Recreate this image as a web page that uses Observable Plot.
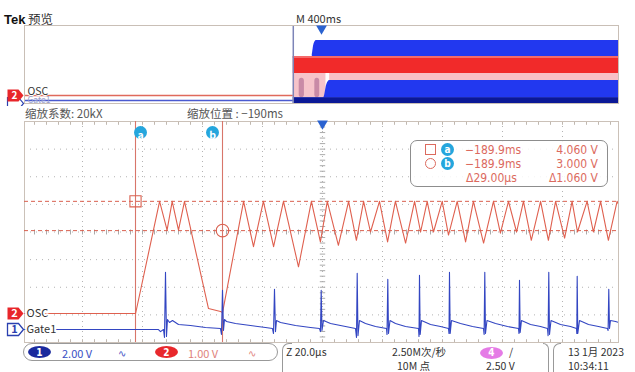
<!DOCTYPE html>
<html><head><meta charset="utf-8">
<script src="https://cdn.jsdelivr.net/npm/d3@7"></script>
<script src="https://cdn.jsdelivr.net/npm/@observablehq/plot@0.6"></script>
<style>
body{margin:0;background:#fff;}
#wrap{position:relative;width:635px;height:372px;overflow:hidden;font-family:"Noto Sans CJK SC","Noto Sans",sans-serif;color:#333;}
.t{position:absolute;white-space:nowrap;line-height:1;transform:translateY(-50%);}
.r{transform:translate(-100%,-50%);}
.n{font-family:"Liberation Sans Narrow","DejaVu Sans Condensed","Liberation Sans",sans-serif;}
.box{position:absolute;box-sizing:border-box;}
</style></head><body><div id="wrap"></div>
<script>
// ---------- data (main view: time in µs, volts) ----------
const redT = [-100, -62.3, -54.3, -51.8, -50.1, -48.0, -46.0, -38.0, -34.0, -33.3, -26.3, -23.0, -19.7, -16.3, -13.0, -8.0, -3.7, -0.7, 1.6, 5.3, 8.7, 11.3, 13.7, 16.0, 19.0, 21.7, 24.3, 27.7, 30.7, 32.7, 34.9, 37.0, 39.9, 42.0, 44.9, 47.7, 50.3, 53.7, 57.0, 59.3, 62.0, 64.7, 67.0, 69.6, 72.7, 75.3, 77.7, 80.7, 83.2, 85.0, 88.2, 90.3, 92.7, 95.3, 98.2, 98.7];
const redV = [0, 0, 4.06, 3.02, 4.06, 3.02, 4.06, 0.18, 0.07, 0.04, 4.06, 2.42, 4.06, 2.42, 4.06, 1.69, 4.06, 2.59, 4.06, 2.47, 4.06, 2.65, 4.06, 2.95, 4.06, 2.59, 4.06, 2.55, 4.06, 2.95, 4.06, 2.95, 4.06, 2.84, 4.06, 2.59, 4.06, 2.55, 4.06, 2.91, 4.06, 2.95, 4.06, 2.65, 4.06, 2.65, 4.06, 2.73, 4.06, 2.95, 4.06, 2.95, 4.06, 2.65, 4.06, 3.95];
const blueT = [-100, -54.67, -54.0, -53.0, -52.67, -52.33, -52.0, -51.67, -51.0, -50.0, -48.0, -44.0, -39.0, -34.0, -33.67, -33.33, -33.0, -32.67, -32.0, -29.0, -24.0, -19.0, -16.67, -16.33, -16.0, -15.67, -15.33, -14.0, -9.0, -4.0, -1.0, -0.67, -0.43, -0.17, 0.33, 2.67, 7.67, 11.0, 11.33, 11.57, 11.83, 12.33, 14.33, 17.67, 21.33, 21.5, 21.77, 22.0, 22.5, 24.33, 27.67, 32.0, 32.17, 32.33, 32.57, 33.0, 36.0, 39.33, 42.0, 42.17, 42.33, 42.57, 43.0, 46.0, 50.0, 53.67, 53.87, 54.1, 54.33, 54.83, 57.67, 61.67, 65.33, 65.5, 65.67, 65.9, 66.33, 69.33, 72.67, 75.0, 75.2, 75.43, 75.67, 76.17, 79.33, 82.67, 84.67, 84.77, 84.9, 85.1, 85.67, 88.67, 92.0, 95.0, 95.2, 95.43, 95.67, 96.0, 97.67, 98.7];
const blueV = [0, 0, -0.15, 0, -0.58, 4.15, -0.51, 0.73, 0.51, 0.65, 0.36, 0.29, 0.15, 0.07, -0.36, 2.84, -0.07, 0.73, 0.58, 0.44, 0.29, 0.15, 0.07, -0.29, 2.91, -0.15, 0.65, 0.51, 0.29, 0.15, 0.07, -0.15, 2.84, -0.07, 0.65, 0.44, 0.22, 0.07, -0.58, 4.07, -0.44, 0.65, 0.44, 0.22, 0.07, -0.36, 3.64, -0.29, 0.65, 0.44, 0.22, 0.07, -0.51, 3.93, -0.36, 0.65, 0.36, 0.22, 0.07, -0.29, 4.15, -0.29, 0.65, 0.44, 0.22, 0.07, -0.36, 4.15, -0.29, 0.65, 0.44, 0.22, 0.07, -0.29, 3.56, -0.22, 0.65, 0.36, 0.22, 0.07, -0.44, 4.15, -0.36, 0.65, 0.36, 0.22, 0.07, -0.29, 3.85, -0.29, 0.65, 0.36, 0.22, 0.07, -0.07, 2.91, 0.07, 0.65, 0.58, 0.51];
const cursorT = [-62.33, -33.33];          // cursor a, b (µs)
const cursorV = [4.06, 3.0];               // cursor a, b (V)
const cursorNames = ["a", "b"];
const readTime = ["−189.9ms", "−189.9ms", "Δ29.00µs"];
const readVolt = ["4.060 V", "3.000 V", "Δ1.060 V"];
const ch1Offset = -0.58, ch1Scale = 0.5;   // Gate1 (2 V/div) drawn on OSC (1 V/div) scale
const chLabels = ["OSC", "Gate1"];

// ---------- preview (time in ms, level in divisions) ----------
const pvZoomPos = -190;
const pvOscLevel = 0.82, pvGateLevel = 0.31;
const pvBlueLowT = [-190, 15, 35, 55, 2000], pvBlueLowY = [0.6, 0.6, 1.9, 2.36, 2.36];
const pvBlueUpT = [-62, -50, -35, 2000], pvBlueUpY = [5.0, 6.1, 6.46, 6.46];
const pvRedT = [-190, 2000], pvRedLo = 3.08, pvRedHi = 4.82;
const pvPinkLeftT = [-190, 30], pvPinkLeftLo = 0.6;
const pvBarT1 = [-150, -45], pvBarT2 = [-115, -12], pvBarTop = 2.6;

// ---------- status texts ----------
const header = {brand: "Tek", mode: "预览", scale: "M 400ms"};
const zoomTexts = ["缩放系数: 20kX", "缩放位置 : −190ms"];
const ch1Text = "2.00 V", ch2Text = "1.00 V";
const horizTexts = ["Z 20.0µs", "2.50M次/秒", "10M 点"];
const trigTexts = ["4", "/", "2.50 V"];
const dateTexts = ["13 1月 2023", "10:34:11"];

const redData = redT.map((t, i) => ({t, v: redV[i]}));
const blueData = blueT.map((t, i) => ({t, v: blueV[i]}));

const wrap = document.getElementById("wrap");
function put(txt, x, y, css, cls) {
  const d = document.createElement("div");
  d.className = "t" + (cls ? " " + cls : "");
  d.textContent = txt;
  d.style.left = x + "px"; d.style.top = y + "px";
  Object.assign(d.style, css || {});
  wrap.appendChild(d); return d;
}
function box(x, y, w, h, css) {
  const d = document.createElement("div");
  d.className = "box";
  Object.assign(d.style, {left: x + "px", top: y + "px", width: w + "px", height: h + "px"}, css || {});
  wrap.appendChild(d); return d;
}

const badge = {draw(ctx) { ctx.moveTo(-8, -6); ctx.lineTo(3, -6); ctx.lineTo(8, 0); ctx.lineTo(3, 6); ctx.lineTo(-8, 6); ctx.closePath(); }};
const font = {fontFamily: "'Noto Sans CJK SC','Noto Sans',sans-serif", fontSize: "11px", background: "transparent"};

// ---------- preview plot ----------
const pvBlueLow = pvBlueLowT.map((t, i) => ({t, y: pvBlueLowY[i]}));
const pvBlueUp = pvBlueUpT.map((t, i) => ({t, y: pvBlueUpY[i]}));
const pvBars = pvBarT1.map((t1, i) => ({t1, t2: pvBarT2[i]}));
const pv = Plot.plot({
  width: 635, height: 106, marginTop: 25, marginBottom: 3, marginLeft: 24, marginRight: 17,
  x: {domain: [-2000, 2000], axis: null},
  y: {domain: [0, 8], axis: null},
  style: font,
  marks: [
    Plot.areaY(pvBlueUp, {x: "t", y1: 4.6, y2: "y", fill: "#2238ef", curve: "monotone-x"}),
    Plot.areaY(pvPinkLeftT, {x: d => d, y1: pvPinkLeftLo, y2: pvRedLo, fill: "#f6c3ca"}),
    Plot.rect(pvBars, {x1: "t1", x2: "t2", y1: pvPinkLeftLo, y2: pvBarTop, fill: "#c98aa6", rx: 3}),
    Plot.areaY(pvBlueLow, {x: "t", y1: 0.55, y2: "y", fill: "#2238ef", curve: "monotone-x"}),
    Plot.areaY([pvZoomPos, 2000], {x: d => d, y1: 0, y2: 0.6, fill: "#0b1896"}),
    Plot.areaY([55, 2000], {x: d => d, y1: 2.36, y2: pvRedLo, fill: "#f8c0c6"}),
    Plot.areaY(pvRedT, {x: d => d, y1: pvRedLo, y2: pvRedHi, fill: "#f12a2a"}),
    Plot.areaY(pvRedT, {x: d => d, y1: pvRedHi - 0.2, y2: pvRedHi, fill: "#f56a6a"}),
    Plot.ruleY([pvGateLevel], {x1: -2000, x2: pvZoomPos, stroke: "#4a5ad0", strokeWidth: 1.3}),
    Plot.ruleY([pvOscLevel], {x1: -2000, x2: pvZoomPos, stroke: "#e06a5c", strokeWidth: 1.3}),
    Plot.ruleX([pvZoomPos], {stroke: "#7d85b8", strokeWidth: 1.5}),
    Plot.frame({stroke: "#c9bfb6"}),
    Plot.text([chLabels[1]], {x: -2000, y: pvGateLevel, dx: 3, dy: 0, text: d => d, textAnchor: "start", fill: "#9aa0cc", fontSize: 8.5}),
    Plot.text([chLabels[0]], {x: -2000, y: pvOscLevel, dx: 3, dy: -4, text: d => d, textAnchor: "start", fill: "#333", stroke: "white", strokeWidth: 2, fontSize: 10.5}),
    Plot.dot([pvGateLevel], {x: -2000, y: d => d, dx: -9, dy: 3, symbol: badge, r: 5, fill: "white", stroke: "#2a40b0", strokeWidth: 1.2}),
    Plot.dot([pvOscLevel], {x: -2000, y: d => d, dx: -9, symbol: badge, r: 5, fill: "#e8262a"}),
    Plot.text(["2"], {x: -2000, y: pvOscLevel, dx: -10, text: d => d, fill: "white", fontWeight: "bold", fontSize: 10}),
    Plot.dot([0], {x: d => d, frameAnchor: "top", dy: 3, symbol: "triangle", rotate: 180, r: 4, fill: "#2a62d0"})
  ]
});
pv.style.position = "absolute"; pv.style.left = "0px"; pv.style.top = "0px";
wrap.appendChild(pv);

// ---------- main plot ----------
const xDom = [-99.33, 98.67];
const yDom = [-1.05, 6.95];
const gridX = d3.range(-80, 81, 20);
const gridY = d3.range(1, 8).map(k => yDom[0] + k);
const yMid = yDom[0] + 4;
const minorX = d3.range(-96, 97, 4);
const minorY = d3.range(1, 40).map(k => yDom[0] + k * 0.2);
const cursors = cursorT.map((t, i) => ({t, v: cursorV[i], name: cursorNames[i]}));
const gridStroke = "#b3b3b3";

const main = Plot.plot({
  width: 635, height: 240, marginTop: 15, marginBottom: 4, marginLeft: 24, marginRight: 17,
  x: {domain: xDom, axis: null},
  y: {domain: yDom, axis: null},
  style: font,
  marks: [
    Plot.ruleX(gridX, {stroke: gridStroke, strokeDasharray: "1,4"}),
    Plot.ruleY(gridY, {stroke: gridStroke, strokeDasharray: "1,5"}),
    Plot.link(minorY, {x1: -0.9, x2: 0.9, y1: d => d, y2: d => d, stroke: "#aaa"}),
    Plot.link(minorX, {x1: d => d, x2: d => d, y1: yMid - 0.09, y2: yMid + 0.09, stroke: "#aaa"}),
    Plot.link(minorX, {x1: d => d, x2: d => d, y1: yDom[1], y2: yDom[1] - 0.12, stroke: "#c0b8b0"}),
    Plot.link(minorX, {x1: d => d, x2: d => d, y1: yDom[0], y2: yDom[0] + 0.12, stroke: "#c0b8b0"}),
    Plot.frame({stroke: "#cbc1b8"}),
    Plot.ruleY(cursorV, {stroke: "#d9604f", strokeDasharray: "4,3"}),
    Plot.ruleX(cursorT, {stroke: "#d8766a", strokeWidth: 1.1}),
    Plot.line(redData, {x: "t", y: "v", stroke: "#df604f", strokeWidth: 1.1, clip: true}),
    Plot.line(blueData, {x: "t", y: d => ch1Offset + d.v * ch1Scale, stroke: "#3346c2", strokeWidth: 1.1, clip: true}),
    Plot.dot(cursors.slice(0, 1), {x: "t", y: "v", symbol: "square", r: 6.3, stroke: "#d9604f", fill: "none", strokeWidth: 1.1}),
    Plot.dot(cursors.slice(1, 2), {x: "t", y: "v", symbol: "circle", r: 6.3, stroke: "#d9604f", fill: "none", strokeWidth: 1.1}),
    Plot.dot(cursors.slice(0, 1), {x: "t", frameAnchor: "top", dy: 11, dx: 5, r: 6.5, fill: "#25a6dd"}),
    Plot.text(cursors.slice(0, 1), {x: "t", frameAnchor: "top", dy: 10.5, dx: 5, text: "name", fill: "white", fontWeight: "bold", fontSize: 10.5}),
    Plot.dot(cursors.slice(1, 2), {x: "t", frameAnchor: "top", dy: 11, dx: -10, r: 6.5, fill: "#25a6dd"}),
    Plot.text(cursors.slice(1, 2), {x: "t", frameAnchor: "top", dy: 10.5, dx: -10, text: "name", fill: "white", fontWeight: "bold", fontSize: 10.5}),
    Plot.text([chLabels[0]], {x: xDom[0], y: 0, dx: 2, text: d => d, textAnchor: "start", fill: "#333", stroke: "white", strokeWidth: 4, fontSize: 11}),
    Plot.text([chLabels[1]], {x: xDom[0], y: ch1Offset, dx: 2, text: d => d, textAnchor: "start", fill: "#333", stroke: "white", strokeWidth: 4, fontSize: 11}),
    Plot.dot([0], {x: xDom[0], y: d => d, dx: -9, symbol: badge, r: 5, fill: "#e8262a"}),
    Plot.text(["2"], {x: xDom[0], y: 0, dx: -10, text: d => d, fill: "white", fontWeight: "bold", fontSize: 11}),
    Plot.dot([ch1Offset], {x: xDom[0], y: d => d, dx: -9, symbol: badge, r: 5, fill: "white", stroke: "#2a40b0", strokeWidth: 1.3}),
    Plot.text(["1"], {x: xDom[0], y: ch1Offset, dx: -10, text: d => d, fill: "#2a40b0", fontWeight: "bold", fontSize: 11}),
    Plot.dot([0], {x: d => d, frameAnchor: "top", dy: 2, symbol: "triangle", rotate: 180, r: 4, fill: "#2a62d0"})
  ]
});
main.style.position = "absolute"; main.style.left = "0px"; main.style.top = "106px";
wrap.appendChild(main);

// ---------- header texts ----------
put(header.brand, 4, 19, {fontFamily: "'Liberation Sans',Arial,sans-serif", fontWeight: "bold", fontSize: "13px", color: "#111"});
put(header.mode, 28, 19, {fontSize: "12.5px", color: "#333"});
put(header.scale, 296, 18, {fontSize: "11px", color: "#333"});
put(zoomTexts[0], 25, 113.5, {fontSize: "11.5px", color: "#555"});
put(zoomTexts[1], 187, 113.5, {fontSize: "11.5px", color: "#555"});

// ---------- cursor readout ----------
const red = "#dc6a5e";
box(410, 140, 198, 47, {border: "1.5px solid #8d8d8d", borderRadius: "7px", background: "rgba(255,255,255,0.85)"});
box(425, 144, 11, 11, {border: "1.2px solid " + red});
box(425, 158, 11, 11, {border: "1.2px solid " + red, borderRadius: "50%"});
[149.5, 163.5].forEach((y, i) => {
  box(441, y - 6.5, 13, 13, {background: "#25a6dd", borderRadius: "50%"});
  put(cursorNames[i], 447.5, y, {color: "white", fontWeight: "bold", fontSize: "10px", transform: "translate(-50%,-50%)"}, "n");
});
[149.5, 163.5, 178].forEach((y, i) => {
  put(readTime[i], i === 2 ? 466 : 465, y, {color: red, fontSize: "12px"}, "n");
  put(readVolt[i], 598, y, {color: red, fontSize: "12px"}, "r n");
});

// ---------- bottom status bar ----------
const r1 = 352, r2 = 366;
box(23, 343, 255, 18, {border: "1.2px solid #999", borderRadius: "9px"});
box(28, 346, 23, 12, {background: "#1b2a9e", borderRadius: "50%"});
put("1", 39.5, 352.5, {color: "white", fontWeight: "bold", fontSize: "10px", transform: "translate(-50%,-50%)"}, "n");
put(ch1Text, 62, 353, {color: "#3a4fc4", fontSize: "11px"});
put("∿", 118, 353, {color: "#3a4fc4", fontSize: "10px"});
box(155, 346, 23, 12, {background: "#e8282c", borderRadius: "50%"});
put("2", 166.5, 352.5, {color: "white", fontWeight: "bold", fontSize: "10px", transform: "translate(-50%,-50%)"}, "n");
put(ch2Text, 188, 353, {color: "#e0827a", fontSize: "11px"});
put("∿", 248, 353, {color: "#e0827a", fontSize: "10px"});
box(282, 343, 10, 32, {borderLeft: "1.2px solid #999", borderTop: "1.2px solid #999", borderTopLeftRadius: "7px"});
put(horizTexts[0], 286, r1, {fontSize: "10.5px", color: "#333"});
put(horizTexts[1], 392, r1, {fontSize: "10.5px", color: "#333"});
put(horizTexts[2], 397, r2, {fontSize: "10.5px", color: "#333"});
box(480, 346.5, 23, 12, {background: "#e57be6", borderRadius: "50%"});
put(trigTexts[0], 491.5, r1 + 0.5, {color: "white", fontWeight: "bold", fontSize: "10px", transform: "translate(-50%,-50%)"}, "n");
put(trigTexts[1], 509, r1, {fontSize: "10.5px", color: "#333"});
put(trigTexts[2], 486, r2, {fontSize: "10.5px", color: "#333"});
box(543, 343, 6, 32, {borderRight: "1.2px solid #999", borderTop: "1.2px solid #999", borderTopRightRadius: "7px"});
box(553, 343, 8, 32, {borderLeft: "1.2px solid #999", borderTop: "1.2px solid #999", borderTopLeftRadius: "7px"});
put(dateTexts[0], 568, r1, {fontSize: "10.5px", color: "#333"});
put(dateTexts[1], 568, r2, {fontSize: "10.5px", color: "#333"});
</script>
</body></html>
